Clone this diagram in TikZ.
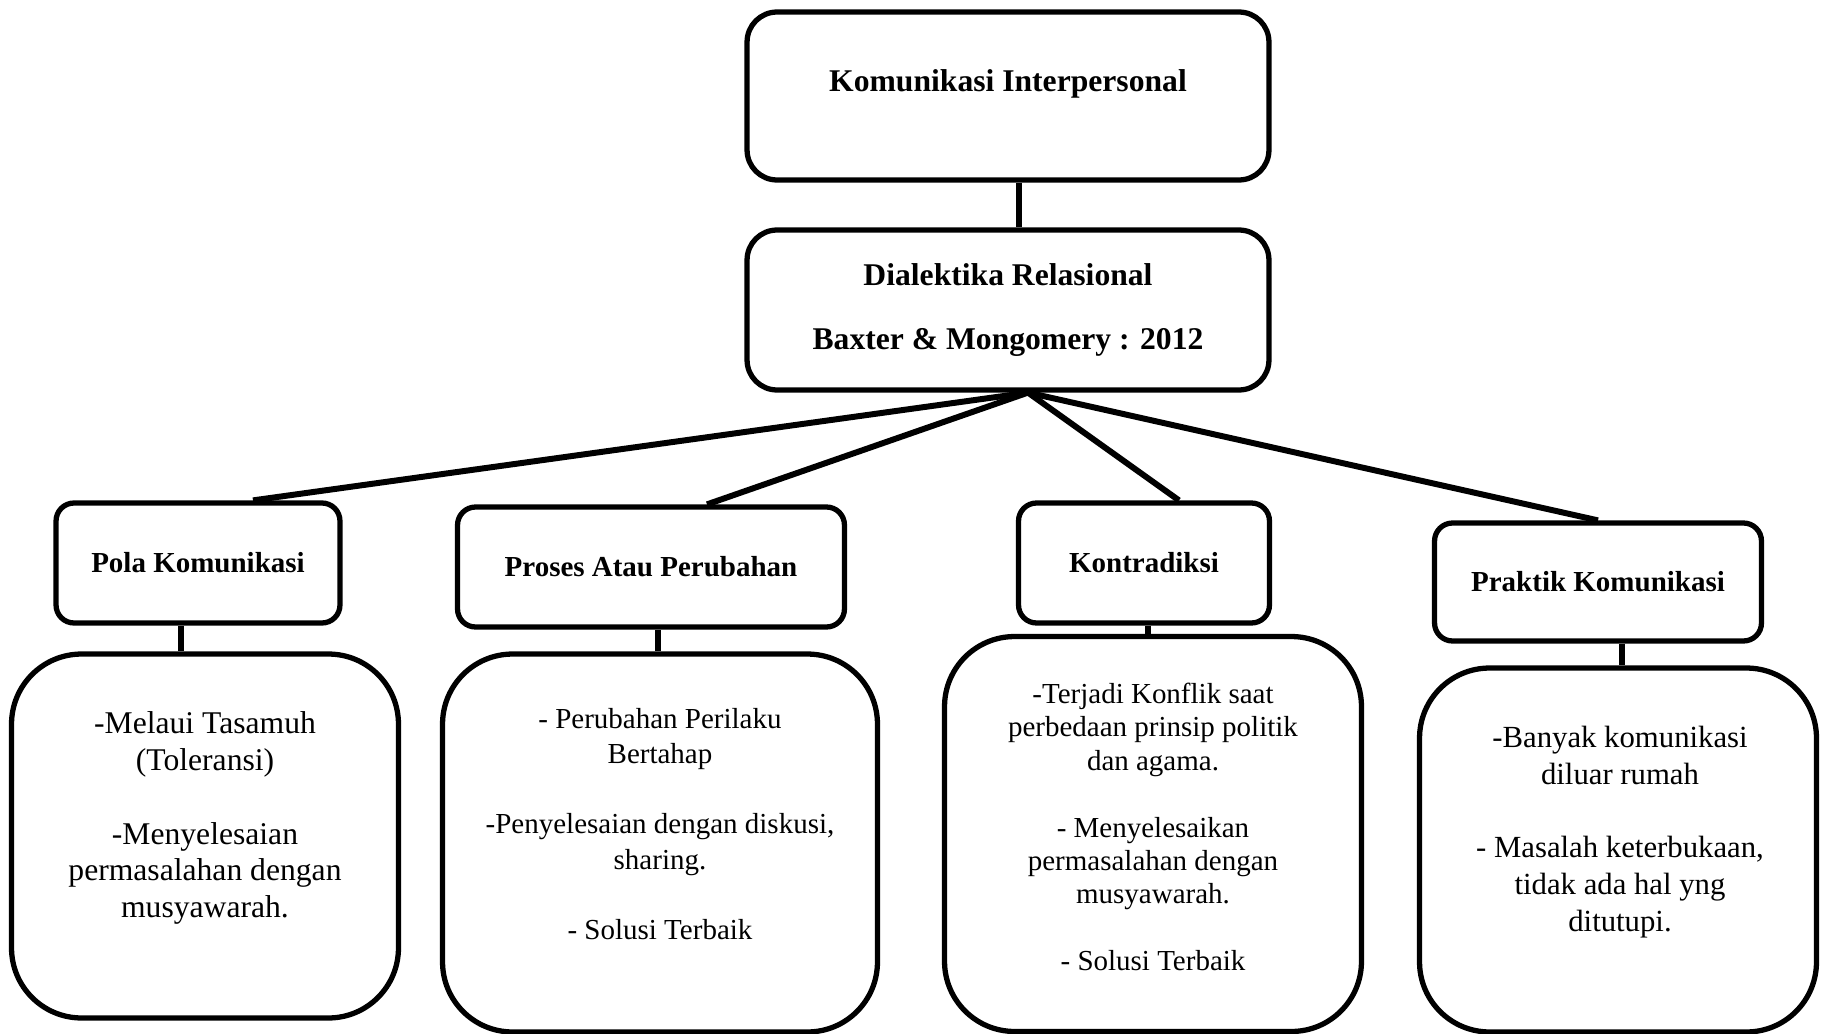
\documentclass[tikz,border=0pt]{standalone}
\usepackage{fontspec}
\setmainfont{Liberation Serif}
\usetikzlibrary{positioning,calc}

\begin{document}
\begin{tikzpicture}[
    x=0.02cm, y=-0.02cm,
    line width=3pt,
    topbox/.style={draw, rounded corners=0.6cm, align=center, minimum width=10.44cm,
                   font=\fontsize{18}{21}\selectfont\bfseries},
    head/.style={draw, rounded corners=0.36cm, align=center, minimum height=2.4cm,
                 font=\fontsize{16.5}{20}\selectfont\bfseries},
    isi/.style={draw, rounded corners=1.4cm},
    isitxt/.style={align=center, font=\fontsize{18}{21}\selectfont},
    link/.style={line width=3.4pt}
]
\useasboundingbox (0,0) rectangle (1822,1034);
% upper level
\node[topbox, minimum height=3.36cm, text depth=18pt] (kom) at (1008,96) {Komunikasi Interpersonal};
\node[topbox, minimum height=3.2cm] (dial) at (1008,310)
     {Dialektika Relasional\\[15pt]Baxter \& Mongomery : 2012};
% four aspects
\node[head, minimum width=5.68cm] (pola) at (198,563) {Pola Komunikasi};
\node[head, minimum width=7.74cm] (proses) at (651,567) {Proses Atau Perubahan};
\node[head, minimum width=5.02cm] (kontra) at (1144,563) {Kontradiksi};
\node[head, minimum width=6.54cm, minimum height=2.36cm] (praktik) at (1598,582) {Praktik Komunikasi};
% content boxes
\node[isi, minimum width=7.74cm, minimum height=7.28cm] (polaIsi) at (205,836) {};
\node[isi, minimum width=8.7cm, minimum height=7.56cm] (prosesIsi) at (660,843) {};
\node[isi, minimum width=8.34cm, minimum height=7.9cm] (kontraIsi) at (1153,834) {};
\node[isi, minimum width=7.94cm, minimum height=7.28cm] (praktikIsi) at (1618,850) {};
\node[isitxt] (polaTxt) at (205,818)
     {-Melaui Tasamuh\\(Toleransi)\\[21pt]-Menyelesaian\\permasalahan dengan\\musyawarah.};
\node[isitxt, font=\fontsize{16.5}{20}\selectfont] (prosesTxt) at (660,824)
     {- Perubahan Perilaku\\Bertahap\\[20pt]-Penyelesaian dengan diskusi,\\sharing.\\[20pt]- Solusi Terbaik};
\node[isitxt, font=\fontsize{16.5}{19}\selectfont] (kontraTxt) at (1153,827)
     {-Terjadi Konflik saat\\perbedaan prinsip politik\\dan agama.\\[19pt]- Menyelesaikan\\permasalahan dengan\\musyawarah.\\[19pt]- Solusi Terbaik};
\node[isitxt, font=\fontsize{17.5}{21}\selectfont] (praktikTxt) at (1620,832)
     {-Banyak komunikasi\\diluar rumah\\[21pt]- Masalah keterbukaan,\\tidak ada hal yng\\ditutupi.};
% connectors
\draw[link] ([xshift=0.22cm]kom.south) -- ([xshift=0.22cm]dial.north);
\coordinate (apex) at ([xshift=0.4cm]dial.south);
\draw[link] (apex) -- ([xshift=1.1cm]pola.north);
\draw[link] (apex) -- ([xshift=1.12cm]proses.north);
\draw[link] (apex) -- ([xshift=0.7cm]kontra.north);
\draw[link] (apex) -- (praktik.north);
\draw[link] ([xshift=-0.34cm]pola.south) -- ([xshift=-0.34cm]pola.south |- polaIsi.north);
\draw[link] ([xshift=0.14cm]proses.south) -- ([xshift=0.14cm]proses.south |- prosesIsi.north);
\draw[link] ([xshift=0.08cm]kontra.south) -- ([xshift=0.08cm]kontra.south |- kontraIsi.north);
\draw[link] ([xshift=0.48cm]praktik.south) -- ([xshift=0.48cm]praktik.south |- praktikIsi.north);
\end{tikzpicture}
\end{document}
